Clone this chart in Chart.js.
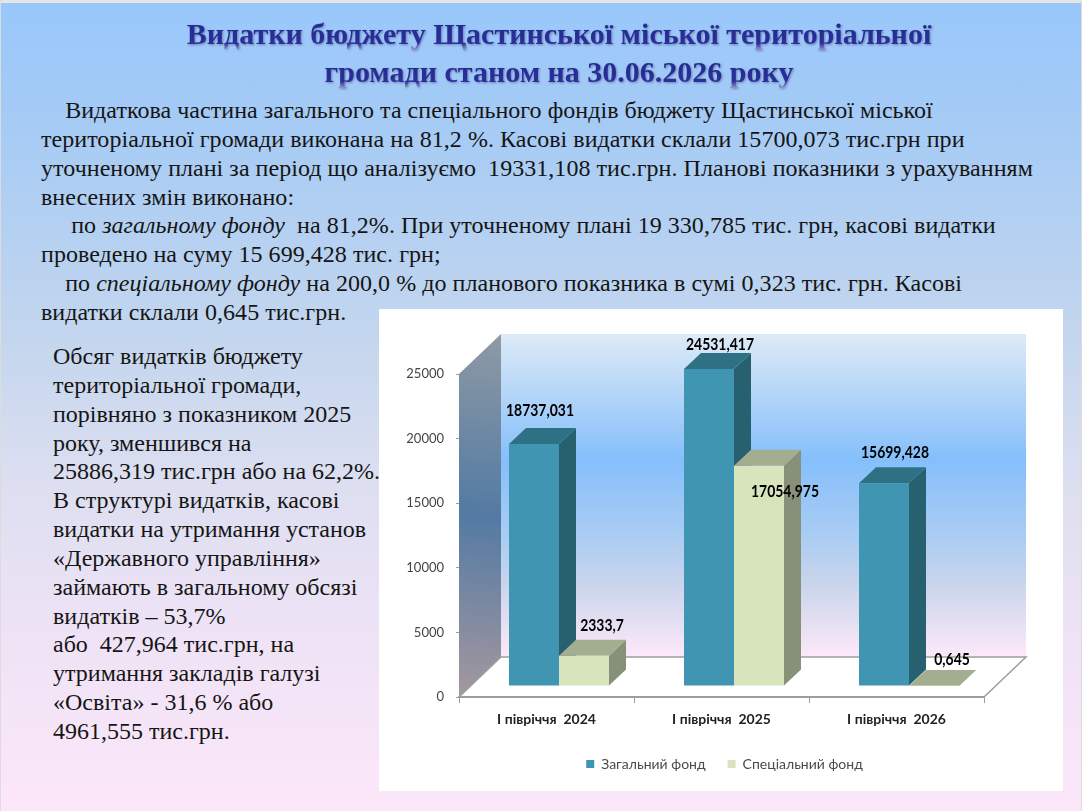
<!DOCTYPE html>
<html lang="uk">
<head>
<meta charset="utf-8">
<title>Видатки бюджету</title>
<script src="https://cdn.jsdelivr.net/npm/chart.js@4"></script>
<style>
  html, body { margin: 0; padding: 0; }
  body {
    width: 1082px; height: 811px; position: relative; overflow: hidden;
    background: linear-gradient(180deg, #99c7fb 0%, #a5cbf5 15%, #c4d6ee 42%, #dddff1 60%, #f0e3f6 80%, #fce7f9 100%);
    font-family: "Liberation Serif", serif; color: #151515;
  }
  .edge-top { position: absolute; left: 0; top: 0; width: 1082px; height: 3px; background: #e6e6e6; }
  .edge-left { position: absolute; left: 0; top: 0; width: 1px; height: 811px; background: #dcdcdc; }
  .edge-right { position: absolute; right: 0; top: 0; width: 1px; height: 811px; background: #dcdcdc; }
  .title {
    position: absolute; left: 0; width: 1118px; text-align: center;
    font-weight: bold; font-size: 30px; line-height: 36px; white-space: pre;
    color: transparent;
    background: linear-gradient(180deg, #1d2a8e 0%, #2c2f98 76%, #b5b5dc 100%);
    -webkit-background-clip: text; background-clip: text;
    filter: drop-shadow(1px 1px 1px rgba(70,70,130,.55));
  }
  .text { position: absolute; font-size: 24px; line-height: 28.85px; white-space: pre; }
  #panel { position: absolute; left: 379px; top: 309px; width: 684px; height: 482px; background: #fff; }
</style>
</head>
<body>
<div class="edge-top"></div><div class="edge-left"></div><div class="edge-right"></div>
<div class="title" style="top:16px">Видатки бюджету Щастинської міської територіальної</div>
<div class="title" style="top:54px">громади станом на 30.06.2026 року</div>
<div class="text" style="left:41px;top:96px;letter-spacing:.04px">    Видаткова частина загального та спеціального фондів бюджету Щастинської міської
територіальної громади виконана на 81,2 %. Касові видатки склали 15700,073 тис.грн при
уточненому плані за період що аналізуємо  19331,108 тис.грн. Планові показники з урахуванням
внесених змін виконано:
     по <i>загальному фонду</i>  на 81,2%. При уточненому плані 19 330,785 тис. грн, касові видатки
проведено на суму 15 699,428 тис. грн;
    по <i>спеціальному фонду</i> на 200,0 % до планового показника в сумі 0,323 тис. грн. Касові
видатки склали 0,645 тис.грн.</div>
<div class="text" style="left:53px;top:342px">Обсяг видатків бюджету
територіальної громади,
порівняно з показником 2025
року, зменшився на
25886,319 тис.грн або на 62,2%.
В структурі видатків, касові
видатки на утримання установ
«Державного управління»
займають в загальному обсязі
видатків – 53,7%
або  427,964 тис.грн, на
утримання закладів галузі
«Освіта» - 31,6 % або
4961,555 тис.грн.</div>
<div id="panel"><canvas id="chart" width="684" height="482"></canvas></div>
<script>
const categories = ['І півріччя  2024', 'І півріччя  2025', 'І півріччя  2026'];
const seriesNames = ['Загальний фонд', 'Спеціальний фонд'];
const generalFund = [18737.031, 24531.417, 15699.428];
const specialFund = [2333.7, 17054.975, 0.645];
const yTicks = [0, 5000, 10000, 15000, 20000, 25000];

// fake 3d: depth of the room and of one bar, in pixels
const roomX = 42, roomY = 40, barX = 17, barY = 16;
// bars stand a bit in front of the back wall
const standX = 12.5, standY = -11;

// where each value label sits relative to the bar top centre
const labelShift = [
    [[6, -33], [18, -30]],
    [[11, -25], [26, 26]],
    [[11, -31], [18, -26]]
];

const faces = [
    { side: '#27616f', top: '#2f7184' },
    { side: '#879079', top: '#a3ad90' }
];

function poly(ctx, pts, fill) {
    ctx.beginPath();
    pts.forEach((p, i) => i ? ctx.lineTo(p[0], p[1]) : ctx.moveTo(p[0], p[1]));
    ctx.closePath();
    ctx.fillStyle = fill;
    ctx.fill();
}

const room = {
    id: 'room',
    afterLayout(chart) {
        // legend is centred on the panel, not on the plot
        chart.legend.left += 43;
        chart.legend.right += 43;
    },
    beforeDatasetsDraw(chart) {
        const { ctx, chartArea: a } = chart;
        const back = ctx.createLinearGradient(0, a.top - roomY, 0, a.bottom - roomY);
        back.addColorStop(0, '#deeaf6');
        back.addColorStop(0.39, '#85bffb');
        back.addColorStop(0.62, '#a9ccf3');
        back.addColorStop(0.78, '#cbd5ec');
        back.addColorStop(1, '#fde9f9');
        ctx.fillStyle = back;
        ctx.fillRect(a.left + roomX, a.top - roomY, a.width, a.height);

        const wall = ctx.createLinearGradient(a.left + roomX, a.top - roomY, a.left, a.bottom);
        wall.addColorStop(0, '#8f9aa5');
        wall.addColorStop(0.5, '#537aa3');
        wall.addColorStop(1, '#a5989f');
        poly(ctx, [[a.left, a.top], [a.left + roomX, a.top - roomY], [a.left + roomX, a.bottom - roomY], [a.left, a.bottom]], wall);

        ctx.strokeStyle = '#9d9d9d';
        ctx.lineWidth = 1.5;
        ctx.beginPath();
        ctx.moveTo(a.left, a.bottom);
        ctx.lineTo(a.left + roomX, a.bottom - roomY);
        ctx.lineTo(a.right + roomX, a.bottom - roomY);
        ctx.lineTo(a.right, a.bottom);
        ctx.stroke();
    },
    beforeDatasetDraw() {
        // bars are painted together in afterDatasetsDraw, left series first
        return false;
    },
    afterDatasetsDraw(chart) {
        const ctx = chart.ctx;
        ctx.save();
        ctx.translate(standX, standY);
        chart.data.datasets.forEach((ds, d) => {
            chart.getDatasetMeta(d).data.forEach(bar => {
                const l = bar.x - bar.width / 2, r = bar.x + bar.width / 2;
                poly(ctx, [[r, bar.y], [r + barX, bar.y - barY], [r + barX, bar.base - barY], [r, bar.base]], faces[d].side);
                poly(ctx, [[l, bar.y], [r, bar.y], [r + barX, bar.y - barY], [l + barX, bar.y - barY]], faces[d].top);
                bar.draw(ctx);
            });
        });
        ctx.fillStyle = '#000';
        ctx.font = 'bold 17px Lato';
        ctx.textAlign = 'center';
        ctx.textBaseline = 'middle';
        chart.data.datasets.forEach((ds, d) => {
            chart.getDatasetMeta(d).data.forEach((bar, i) => {
                const shift = labelShift[i][d];
                // original font is taller and narrower than Lato
                ctx.save();
                ctx.translate(bar.x + shift[0], bar.y + shift[1]);
                ctx.scale(0.82, 1);
                ctx.fillText(String(ds.data[i]).replace('.', ','), 0, 0);
                ctx.restore();
            });
        });
        ctx.restore();
    }
};

new Chart(document.getElementById('chart'), {
    type: 'bar',
    data: {
        labels: categories,
        datasets: [
            { label: seriesNames[0], data: generalFund, backgroundColor: '#4096b2' },
            { label: seriesNames[1], data: specialFund, backgroundColor: '#d8e4bc' }
        ]
    },
    options: {
        responsive: false,
        animation: false,
        layout: { autoPadding: false, padding: { top: 65, right: 79, bottom: 10, left: 0 } },
        plugins: {
            tooltip: { enabled: false },
            legend: {
                position: 'bottom',
                labels: {
                    boxWidth: 8, boxHeight: 8, padding: 22,
                    color: '#4a4a4a', font: { family: 'Lato', size: 14 }
                }
            }
        },
        datasets: { bar: { categoryPercentage: 100 / 175, barPercentage: 1 } },
        scales: {
            x: {
                afterFit(s) { s.height = 38; },
                grid: { offset: true, drawOnChartArea: false, color: '#9d9d9d', tickLength: 6 },
                border: { color: '#9d9d9d', width: 2 },
                ticks: { color: '#222', padding: 8, maxRotation: 0, font: { family: 'Lato', size: 14, weight: 'bold' } }
            },
            y: {
                min: 0, max: 25000,
                afterFit(s) { s.width = 80; },
                afterBuildTicks(s) { s.ticks = yTicks.map(v => ({ value: v })); },
                grid: { drawOnChartArea: false, color: '#9d9d9d', tickLength: 3 },
                border: { color: '#9d9d9d', width: 1 },
                ticks: { color: '#444', padding: 12, font: { family: 'Lato', size: 13 }, callback: v => String(v) }
            }
        }
    },
    plugins: [room]
});
</script>
</body>
</html>
